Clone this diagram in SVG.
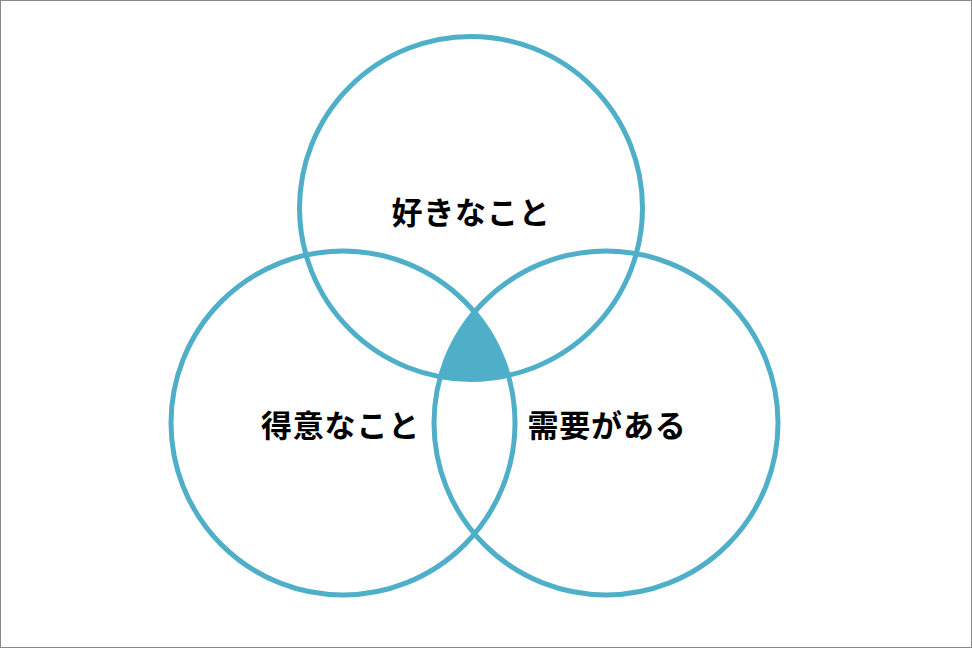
<svg xmlns="http://www.w3.org/2000/svg" width="972" height="648" viewBox="0 0 972 648">
<style>
.c{fill:none;stroke:#4faec8;stroke-width:5}
.t{font-family:"Noto Sans CJK JP","Noto Sans",sans-serif;font-weight:700;font-size:31px;letter-spacing:0.8px;fill:#000;text-anchor:middle}
</style>
<defs>
<clipPath id="cl"><circle cx="343" cy="423" r="172"/></clipPath>
<clipPath id="cr"><circle cx="606" cy="423" r="172"/></clipPath>
</defs>
<rect x="0.5" y="0.5" width="971" height="647" fill="#fff" stroke="#888" stroke-width="1"/>
<g id="overlap" clip-path="url(#cl)"><g clip-path="url(#cr)"><circle cx="471" cy="208" r="171.5" fill="#4faec8"/></g></g>
<g id="top"><circle class="c" cx="471" cy="208" r="171.5"/><text class="t" x="471" y="224">好きなこと</text></g>
<g id="left"><circle class="c" cx="343" cy="423" r="172"/><text class="t" x="340.5" y="437">得意なこと</text></g>
<g id="right"><circle class="c" cx="606" cy="423" r="172"/><text class="t" x="607" y="437">需要がある</text></g>
<g id="connectors"/>
</svg>
